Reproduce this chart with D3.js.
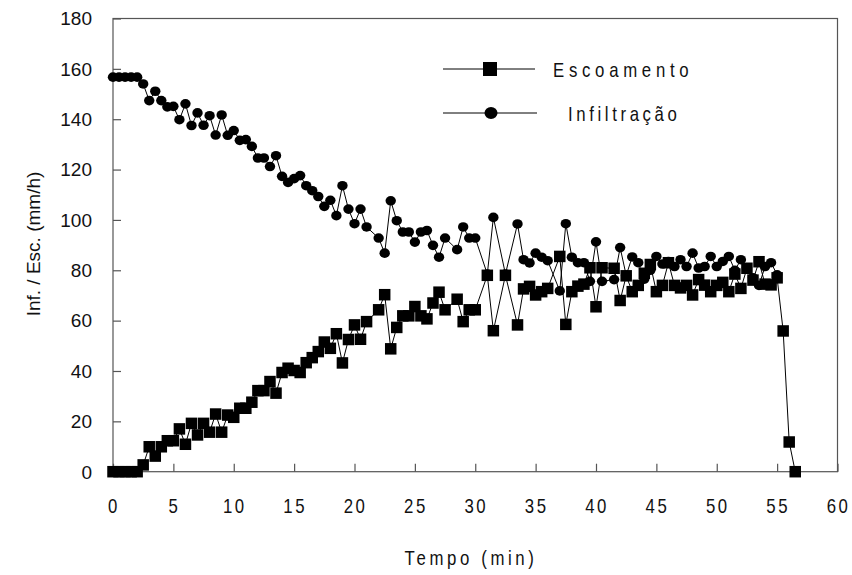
<!DOCTYPE html>
<html>
<head>
<meta charset="utf-8">
<script src="https://cdn.jsdelivr.net/npm/d3@7/dist/d3.min.js"></script>
<style>
  html, body { margin: 0; padding: 0; background: #fff; }
  svg { display: block; }
  .num { font-family: "Liberation Sans", Arial, sans-serif; }
  .narrow { font-family: "Liberation Sans", Arial, sans-serif; }
</style>
</head>
<body>
<svg id="chart" width="852" height="575"></svg>
<script>
// Tempo (min) das leituras
const tempoInf = [0,0.5,1,1.5,2,2.5,3,3.5,4,4.5,5,5.5,6,6.5,7,7.5,8,8.5,9,9.5,10,10.5,11,11.5,12,12.5,13,13.5,14,14.5,15,15.5,16,16.5,17,17.5,18,18.5,19,19.5,20,20.5,21,22,22.5,23,23.5,24,24.5,25,25.5,26,26.5,27,27.5,28.5,29,29.5,30,31,31.5,32.5,33.5,34,34.5,35,35.5,36,37,37.5,38,38.5,39,39.5,40,40.5,41.5,42,42.5,43,43.5,44,44.5,45,45.5,46,46.5,47,47.5,48,48.5,49,49.5,50,50.5,51,51.5,52,52.5,53,53.5,54,54.5,55];
// Infiltração (mm/h)
const infiltracao = [156.7,156.7,156.7,156.7,156.7,154.0,147.4,151.1,147.4,144.9,145.1,139.8,146.1,137.5,142.5,137.6,141.4,133.7,141.7,133.6,135.5,131.6,131.9,129.2,124.6,124.6,121.2,125.5,117.3,114.9,116.4,117.6,113.6,111.6,109.3,105.4,107.8,101.7,113.6,104.3,98.5,104.3,97.2,92.8,86.8,107.6,99.7,95.2,95.2,91.2,95.2,95.8,89.9,85.2,92.8,88.2,97.2,92.8,92.8,78.5,101.0,78.5,98.4,84.2,82.9,86.8,85.2,83.8,71.8,98.5,85.2,83.0,83.0,75.6,91.3,75.6,76.3,89.0,78.0,85.3,83.0,76.5,80.0,85.5,82.5,83.5,81.5,84.2,81.5,86.8,80.9,81.5,85.5,81.5,83.5,85.5,80.0,84.2,81.0,77.0,74.0,81.5,83.0,78.2];

const tempoEsc = [0,0.5,1,1.5,2,2.5,3,3.5,4,4.5,5,5.5,6,6.5,7,7.5,8,8.5,9,9.5,10,10.5,11,11.5,12,12.5,13,13.5,14,14.5,15,15.5,16,16.5,17,17.5,18,18.5,19,19.5,20,20.5,21,22,22.5,23,23.5,24,24.5,25,25.5,26,26.5,27,27.5,28.5,29,29.5,30,31,31.5,32.5,33.5,34,34.5,35,35.5,36,37,37.5,38,38.5,39,39.5,40,40.5,41.5,42,42.5,43,43.5,44,44.5,45,45.5,46,46.5,47,47.5,48,48.5,49,49.5,50,50.5,51,51.5,52,52.5,53,53.5,54,54.5,55,55.5,56,56.5];
// Escoamento (mm/h)
const escoamento = [0,0,0,0,0,2.7,9.9,6.2,9.9,12.3,12.3,17.0,10.9,19.2,14.6,19.2,15.7,22.9,15.7,22.5,21.6,25.2,25.2,27.6,32.2,32.2,35.8,31.2,39.4,41.1,40.2,39.4,43.3,45.3,47.7,51.5,49.0,54.8,43.2,52.5,58.3,52.6,59.6,64.3,70.3,48.8,57.3,61.9,61.9,65.6,61.9,60.7,67.0,71.3,64.3,68.5,59.6,64.3,64.3,78.0,56.0,78.0,58.3,72.6,73.6,70.2,71.5,72.8,85.5,58.5,71.5,73.7,74.5,81.0,65.5,81.0,80.8,68.0,77.8,71.5,74.0,78.8,82.3,71.5,74.0,83.0,74.0,73.0,74.0,70.2,76.3,74.1,71.5,74.0,75.2,71.5,78.5,72.8,80.8,76.1,83.4,74.5,74.2,77.0,55.9,11.8,0];

const xTicks = [0,5,10,15,20,25,30,35,40,45,50,55,60];
const yTicks = [0,20,40,60,80,100,120,140,160,180];

const svg = d3.select("#chart");
const plotL = 113, plotR = 837.5, plotT = 18.5, plotB = 471.7;

const x = d3.scaleLinear().domain([0, 60]).range([plotL, plotR]);
const y = d3.scaleLinear().domain([0, 180]).range([plotB, plotT]);

// texto condensado: fonte comprimida na horizontal
function narrowText(parent, px, py, txt, opts) {
  const o = Object.assign({ size: 20, spacing: 2, anchor: "start", sx: 0.84 }, opts || {});
  return parent.append("text").attr("class", "narrow")
    .attr("transform", `translate(${px},${py}) scale(${o.sx},1)`)
    .attr("text-anchor", o.anchor).attr("font-size", o.size)
    .attr("letter-spacing", o.spacing).attr("fill", "#111")
    .text(txt);
}

// moldura
svg.append("rect")
  .attr("x", plotL).attr("y", plotT)
  .attr("width", plotR - plotL).attr("height", plotB - plotT)
  .attr("fill", "none").attr("stroke", "#555").attr("stroke-width", 1.2);

// eixo Y (marcas para dentro)
const yAxis = svg.append("g").attr("transform", `translate(${plotL},0)`)
  .call(d3.axisRight(y).tickValues(yTicks).tickSize(8).tickFormat(""));
yAxis.select(".domain").remove();
yAxis.selectAll("line").attr("stroke", "#555").attr("stroke-width", 1.2);

svg.append("g").selectAll("text").data(yTicks).join("text")
  .attr("class", "num")
  .attr("x", 92).attr("y", d => y(d)).attr("dy", "0.36em")
  .attr("text-anchor", "end").attr("font-size", 19).attr("fill", "#111")
  .text(d => d);

// eixo X (marcas para dentro)
const xAxis = svg.append("g").attr("transform", `translate(0,${plotB})`)
  .call(d3.axisTop(x).tickValues(xTicks).tickSize(8).tickFormat(""));
xAxis.select(".domain").remove();
xAxis.selectAll("line").attr("stroke", "#555").attr("stroke-width", 1.2);

const xLab = svg.append("g");
xTicks.forEach(d => narrowText(xLab, x(d) + 1, 513, d, { anchor: "middle", spacing: 3 }));

// títulos dos eixos
narrowText(svg, 471, 565, "Tempo (min)", { anchor: "middle", spacing: 4.3 });

svg.append("text").attr("class", "num")
  .attr("transform", "translate(40,244) rotate(-90)")
  .attr("text-anchor", "middle").attr("font-size", 19).attr("fill", "#111")
  .text("Inf. / Esc. (mm/h)");

const line = d3.line().x(d => x(d[0])).y(d => y(d[1]));
const esc = tempoEsc.map((t, i) => [t, escoamento[i]]);
const inf = tempoInf.map((t, i) => [t, infiltracao[i]]);

const sq = 11.5;
// série Escoamento
svg.append("path").datum(esc).attr("d", line)
  .attr("fill", "none").attr("stroke", "#000").attr("stroke-width", 1);
svg.append("g").selectAll("rect").data(esc).join("rect")
  .attr("x", d => x(d[0]) - sq / 2).attr("y", d => y(d[1]) - sq / 2)
  .attr("width", sq).attr("height", sq).attr("fill", "#000");

// série Infiltração
svg.append("path").datum(inf).attr("d", line)
  .attr("fill", "none").attr("stroke", "#000").attr("stroke-width", 1);
svg.append("g").selectAll("ellipse").data(inf).join("ellipse")
  .attr("cx", d => x(d[0])).attr("cy", d => y(d[1]))
  .attr("rx", 5.2).attr("ry", 4.8).attr("fill", "#000");

// legenda
const leg = svg.append("g");
leg.append("line").attr("x1", 443).attr("x2", 535).attr("y1", 69).attr("y2", 69)
  .attr("stroke", "#000").attr("stroke-width", 1);
leg.append("rect").attr("x", 490 - 7).attr("y", 69 - 7).attr("width", 14).attr("height", 14).attr("fill", "#000");
narrowText(leg, 553, 77, "Escoamento", { spacing: 5.6 });

leg.append("line").attr("x1", 443).attr("x2", 537).attr("y1", 113).attr("y2", 113)
  .attr("stroke", "#000").attr("stroke-width", 1);
leg.append("ellipse").attr("cx", 491).attr("cy", 113).attr("rx", 6.5).attr("ry", 6).attr("fill", "#000");
narrowText(leg, 568, 121, "Infiltração", { spacing: 4.3 });
</script>
</body>
</html>
